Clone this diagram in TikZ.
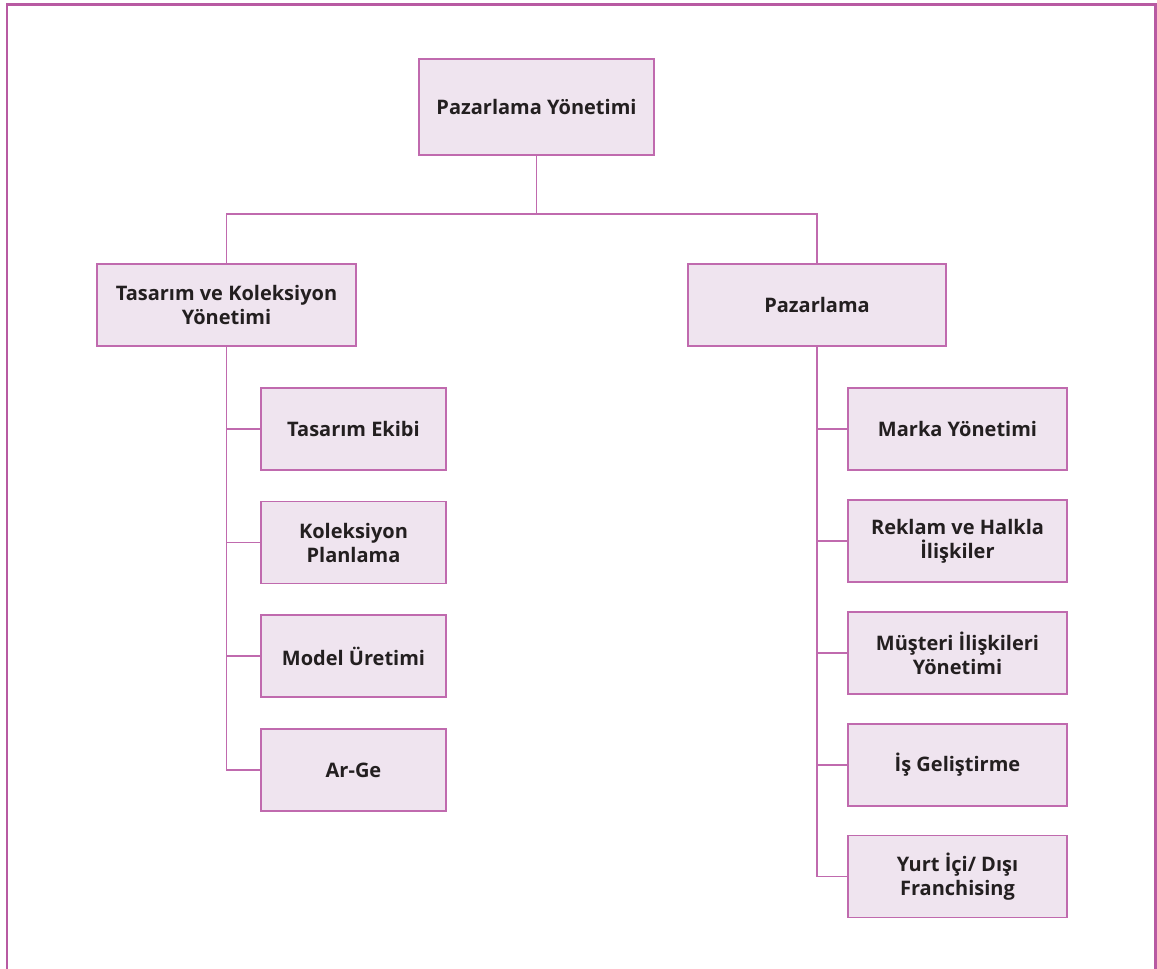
\documentclass[tikz,border=0pt]{standalone}
\usepackage{fontspec}
\setmainfont{Open Sans}
\definecolor{boxline}{HTML}{C06AAE}
\definecolor{boxfill}{HTML}{EFE4EF}
\definecolor{frameline}{HTML}{B85AA2}
\definecolor{ink}{HTML}{231F20}
\tikzset{
  unit/.style={draw=boxline, fill=boxfill, line width=1.8pt, align=center,
    font=\bfseries\fontsize{20}{24}\selectfont, text=ink, inner sep=0pt},
  link/.style={draw=boxline, line width=1.8pt},
}
\begin{document}
\begin{tikzpicture}[x=1pt,y=-1pt]
\useasboundingbox (0,0) rectangle (1157,969);
% open frame around the chart
\draw[frameline, line width=2.6pt] (7,969) -- (7,4.5) -- (1155.5,4.5) -- (1155.5,969);

% top level
\node[unit, minimum width=235pt, minimum height=96pt] (top) at (536.5,107) {Pazarlama Yönetimi};

% second level
\node[unit, minimum width=259pt, minimum height=82pt] (tk) at (226.5,305) {Tasarım ve Koleksiyon\\Yönetimi};
\node[unit, minimum width=258pt, minimum height=82pt] (pz) at (817,305) {Pazarlama};

% left branch
\tikzset{lchild/.style={unit, minimum width=185pt, minimum height=82pt}}
\node[lchild] (te) at (353.5,429) {Tasarım Ekibi};
\node[lchild] (kp) at (353.5,542.5) {Koleksiyon\\Planlama};
\node[lchild] (mu) at (353.5,656) {Model Üretimi};
\node[lchild] (ag) at (353.5,770) {Ar-Ge};

% right branch
\tikzset{rchild/.style={unit, minimum width=219pt, minimum height=82pt}}
\node[rchild] (my) at (957.5,429) {Marka Yönetimi};
\node[rchild] (rh) at (957.5,541) {Reklam ve Halkla\\İlişkiler};
\node[rchild] (mi) at (957.5,653) {Müşteri İlişkileri\\Yönetimi};
\node[rchild] (ig) at (957.5,765) {İş Geliştirme};
\node[rchild] (yf) at (957.5,876.5) {Yurt İçi/ Dışı\\Franchising};

% connectors
\coordinate (bus) at (536.5,214);
\draw[link] (top.south) -- (top.south |- bus);
\draw[link] (tk.north) -- (tk.north |- bus) -- (pz.north |- bus) -- (pz.north);

\draw[link] (tk.south) |- (ag.west);
\foreach \c in {te,kp,mu}
  \draw[link] (tk.south |- \c.west) -- (\c.west);

\draw[link] (pz.south) |- (yf.west);
\foreach \c in {my,rh,mi,ig}
  \draw[link] (pz.south |- \c.west) -- (\c.west);
\end{tikzpicture}
\end{document}
